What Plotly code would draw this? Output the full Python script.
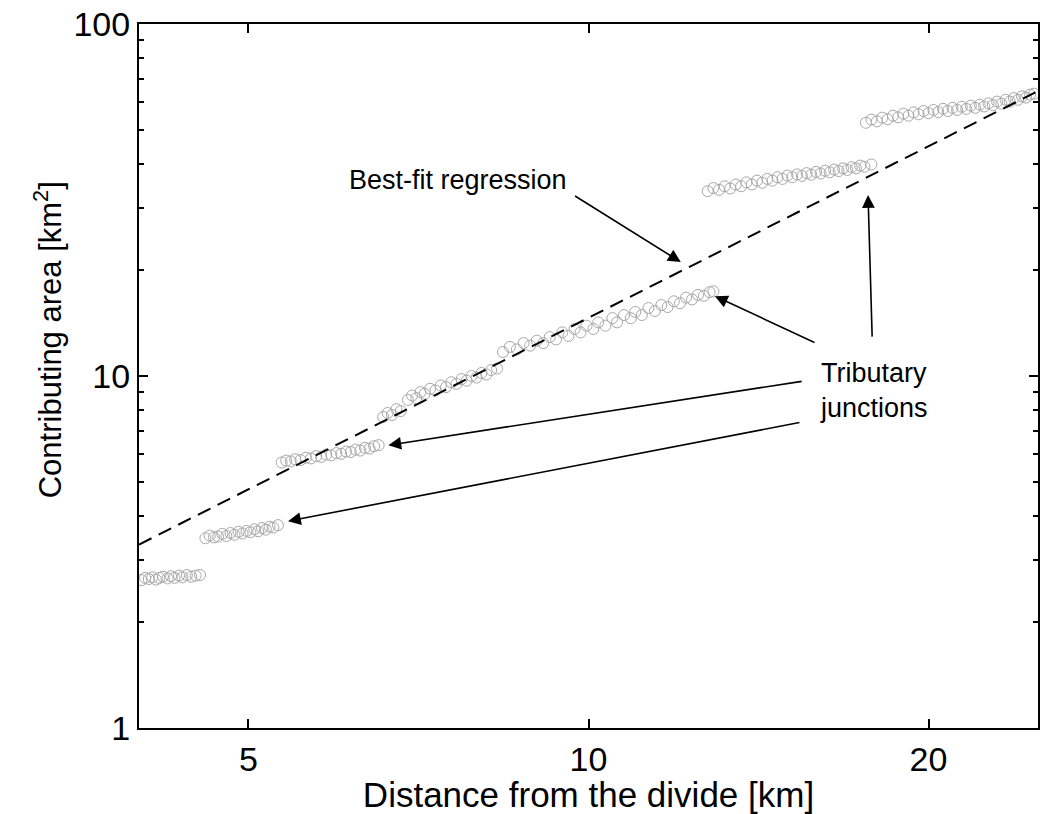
import math
import plotly.graph_objects as go

# ---- data (distance [km], contributing area [km^2]) ----
seg1_x = [4.02, 4.05, 4.08, 4.11, 4.14, 4.17, 4.20, 4.24, 4.27, 4.30, 4.34, 4.37, 4.41, 4.45, 4.49, 4.53]
seg1_y = [2.63, 2.67, 2.65, 2.68, 2.64, 2.67, 2.69, 2.66, 2.70, 2.67, 2.71, 2.68, 2.72, 2.69, 2.71, 2.72]

seg2_x = [4.58, 4.62, 4.66, 4.70, 4.74, 4.78, 4.82, 4.86, 4.90, 4.94, 4.98, 5.02,
          5.06, 5.10, 5.14, 5.18, 5.22, 5.26, 5.31]
seg2_y = [3.46, 3.52, 3.48, 3.50, 3.56, 3.51, 3.58, 3.54, 3.61, 3.57, 3.63, 3.60,
          3.67, 3.62, 3.70, 3.66, 3.73, 3.71, 3.77]

seg3_x = [5.35, 5.40, 5.45, 5.50, 5.56, 5.62, 5.68, 5.74, 5.80, 5.86, 5.92, 5.98,
          6.04, 6.10, 6.16, 6.22, 6.28, 6.34, 6.40, 6.46, 6.52]
seg3_y = [5.68, 5.75, 5.72, 5.80, 5.77, 5.86, 5.83, 5.92, 5.89, 5.98, 5.95, 6.04,
          6.01, 6.10, 6.08, 6.18, 6.14, 6.25, 6.22, 6.32, 6.36]

seg4_x = [6.58, 6.64, 6.70, 6.76, 6.82, 6.92, 6.98, 7.04, 7.10, 7.16, 7.24, 7.32,
          7.40, 7.48, 7.56, 7.64, 7.72, 7.80, 7.88, 7.96, 8.04, 8.12, 8.20, 8.30]
seg4_y = [7.65, 7.85, 7.75, 8.05, 7.95, 8.55, 8.80, 8.65, 9.00, 8.90, 9.20, 9.10,
          9.40, 9.30, 9.60, 9.50, 9.80, 9.70, 10.0, 9.90, 10.2, 10.1, 10.4, 10.5]

seg5_x = [8.40, 8.52, 8.64, 8.76, 8.88, 9.00, 9.12, 9.24, 9.36, 9.48, 9.60, 9.72,
          9.84, 9.96, 10.1, 10.2, 10.35, 10.5, 10.6, 10.75, 10.9, 11.0, 11.15, 11.3,
          11.45, 11.6, 11.75, 11.9, 12.05, 12.2, 12.35, 12.5, 12.65, 12.8, 12.9]
seg5_y = [11.7, 12.1, 11.9, 12.4, 12.2, 12.6, 12.4, 12.9, 12.7, 13.3, 13.0, 13.6,
          13.3, 13.9, 13.6, 14.2, 13.9, 14.6, 14.2, 14.9, 14.6, 15.2, 14.9, 15.6,
          15.3, 15.9, 15.7, 16.3, 16.1, 16.7, 16.5, 17.0, 16.9, 17.3, 17.4]

seg6_x = [12.75, 12.9, 13.05, 13.2, 13.35, 13.5, 13.65, 13.8, 13.95, 14.1, 14.25,
          14.4, 14.55, 14.7, 14.85, 15.0, 15.15, 15.3, 15.45, 15.6, 15.75, 15.9,
          16.05, 16.2, 16.35, 16.5, 16.65, 16.8, 16.95, 17.1, 17.25, 17.4, 17.55, 17.8]
seg6_y = [33.5, 34.2, 33.8, 34.6, 34.1, 35.0, 34.6, 35.5, 35.0, 35.9, 35.4,
          36.3, 35.9, 36.7, 36.3, 37.1, 36.7, 37.4, 37.0, 37.7, 37.3, 38.0,
          37.6, 38.3, 37.9, 38.6, 38.2, 38.9, 38.5, 39.2, 38.9, 39.6, 39.3, 39.9]

seg7_x = [17.6, 17.8, 18.0, 18.2, 18.4, 18.6, 18.8, 19.0, 19.2, 19.4, 19.6, 19.8,
          20.0, 20.2, 20.4, 20.6, 20.8, 21.0, 21.2, 21.4, 21.6, 21.8, 22.0, 22.2,
          22.4, 22.6, 22.8, 23.0, 23.2, 23.4, 23.6, 23.8, 24.0, 24.2, 24.4, 24.6, 24.8]
seg7_y = [52.4, 53.5, 52.9, 54.2, 53.6, 54.9, 54.3, 55.6, 54.9, 56.1, 55.4, 56.6,
          55.8, 57.0, 56.2, 57.4, 56.6, 57.8, 57.0, 58.2, 57.4, 58.6, 57.8, 59.0,
          58.3, 59.5, 58.8, 60.2, 59.4, 60.9, 60.2, 61.6, 60.9, 62.3, 61.8, 63.0, 63.4]

fit_x = [4.0, 25.0]
fit_y = [3.32, 64.5]

x_ticks = [5, 10, 20]
y_ticks = [1, 10, 100]
y_minor = [2, 3, 4, 5, 6, 7, 8, 9, 20, 30, 40, 50, 60, 70, 80, 90]

FONT = "Liberation Sans, Arial, Helvetica, sans-serif"
GRAY = "#a8a8a8"

fig = go.Figure()

for sx, sy in [(seg1_x, seg1_y), (seg2_x, seg2_y), (seg3_x, seg3_y), (seg4_x, seg4_y),
               (seg5_x, seg5_y), (seg6_x, seg6_y), (seg7_x, seg7_y)]:
    fig.add_trace(go.Scatter(
        x=sx, y=sy, mode="markers",
        marker=dict(symbol="circle-open", size=11, color=GRAY, line=dict(width=1, color=GRAY)),
        showlegend=False, hoverinfo="skip"))

fig.add_trace(go.Scatter(
    x=fit_x, y=fit_y, mode="lines",
    line=dict(color="black", width=2, dash="14px,8px"),
    showlegend=False, hoverinfo="skip"))

L = math.log10


def arrow(head, tail):
    return dict(x=L(head[0]), y=L(head[1]), ax=L(tail[0]), ay=L(tail[1]),
                xref="x", yref="y", axref="x", ayref="y", text="",
                showarrow=True, arrowhead=2, arrowsize=1.6, arrowwidth=1.6,
                arrowcolor="black", standoff=0, startstandoff=0)


annotations = [
    arrow((12.07, 21.07), (9.70, 32.66)),
    arrow((12.94, 16.86), (15.90, 12.40)),
    arrow((17.68, 32.66), (17.83, 12.81)),
    arrow((6.65, 6.36), (15.49, 9.67)),
    arrow((5.42, 3.87), (15.42, 7.39)),
    dict(x=L(7.67), y=L(36.0), xref="x", yref="y", text="Best-fit regression",
         showarrow=False, xanchor="center", yanchor="middle",
         font=dict(family=FONT, size=27, color="black")),
    dict(x=L(15.97), y=L(9.12), xref="x", yref="y", text="Tributary<br>junctions",
         showarrow=False, xanchor="left", yanchor="middle", align="left",
         font=dict(family=FONT, size=27, color="black")),
    dict(x=-0.101, y=0.551, xref="paper", yref="paper",
         text="Contributing area [km<sup>2</sup>]", textangle=-90,
         showarrow=False, xanchor="center", yanchor="middle",
         font=dict(family=FONT, size=31, color="black")),
]

fig.update_layout(
    width=1045, height=814,
    margin=dict(l=139, r=5, t=24, b=86),
    paper_bgcolor="white", plot_bgcolor="white",
    font=dict(family=FONT, color="black"),
    annotations=annotations,
    showlegend=False,
)

fig.update_xaxes(
    type="log", range=[L(4), L(25)],
    tickvals=x_ticks, ticktext=[str(v) for v in x_ticks],
    ticks="inside", ticklen=9, tickwidth=1.5, tickcolor="black",
    showline=True, linecolor="black", linewidth=2, mirror="ticks",
    showgrid=False, zeroline=False,
    tickfont=dict(family=FONT, size=34),
    title=dict(text="Distance from the divide [km]", font=dict(family=FONT, size=35), standoff=0),
)
fig.update_yaxes(
    type="log", range=[0, 2],
    tickvals=y_ticks, ticktext=[str(v) for v in y_ticks],
    ticks="inside", ticklen=9, tickwidth=1.5, tickcolor="black",
    minor=dict(tickvals=y_minor, ticks="inside", ticklen=5, tickwidth=1.5, tickcolor="black"),
    showline=True, linecolor="black", linewidth=2, mirror="ticks",
    showgrid=False, zeroline=False,
    tickfont=dict(family=FONT, size=34),
)

fig.write_html("out.html")
